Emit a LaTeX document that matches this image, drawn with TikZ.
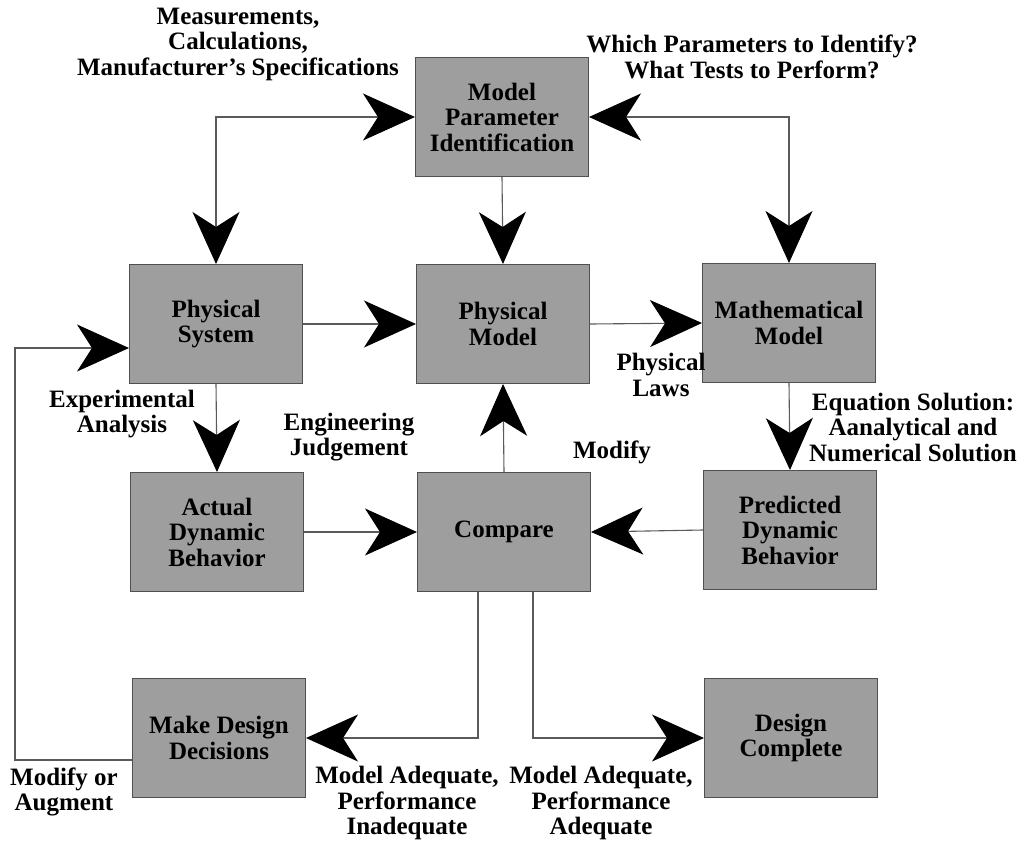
\documentclass[tikz,border=0pt]{standalone}
\usepackage{fontspec}
\setmainfont{Liberation Serif}
\usetikzlibrary{arrows.meta}
\definecolor{boxfill}{RGB}{158,158,158}
\definecolor{boxline}{RGB}{80,80,80}
\definecolor{wire}{RGB}{90,90,90}
\begin{document}
\begin{tikzpicture}[x=1pt,y=-1pt,
  txt/.style={font=\bfseries\fontsize{25}{25.5}\selectfont, align=center, inner sep=0pt},
  blk/.style={txt, draw=boxline, line width=1pt, fill=boxfill,
    minimum width=173pt, minimum height=119pt},
  bigtip/.tip={Stealth[length=52pt, width=47pt, inset=15pt, color=black]},
  wire/.style={draw=wire, line width=1.1pt},
  flow/.style={wire, -bigtip},
  both/.style={wire, bigtip-bigtip}]
\useasboundingbox (0,0) rectangle (1028,844);

% blocks
\node[blk] (mpi)  at (502,117) {Model\\Parameter\\Identification};
\node[blk] (psys) at (216,324) {Physical\\System};
\node[blk] (pmod) at (503,324) {Physical\\Model};
\node[blk] (mmod) at (789,323) {Mathematical\\Model};
\node[blk] (adb)  at (217,532) {Actual\\Dynamic\\Behavior};
\node[blk] (cmp)  at (504,532) {Compare};
\node[blk] (pdb)  at (790,530) {Predicted\\Dynamic\\Behavior};
\node[blk] (mdd)  at (219,738) {Make Design\\Decisions};
\node[blk] (dc)   at (791,738) {Design\\Complete};

% labels
\node[txt] (lmeas) at (238,44) {Measurements,\\Calculations,\\Manufacturer's Specifications};
\node[txt] (lwhich) at (752,57) {Which Parameters to Identify?\\What Tests to Perform?};
\node[txt] (llaws) at (661,375) {Physical\\Laws};
\node[txt] (leq) at (913,427) {Equation Solution:\\Aanalytical and\\Numerical Solution};
\node[txt] (lexp) at (122,414) {Experimental\\Analysis};
\node[txt] (leng) at (349,437) {Engineering\\Judgement};
\node[txt] (lmod) at (612,452) {Modify};
\node[txt] (laug) at (64,792) {Modify or\\Augment};
\node[txt] (lina) at (407,803) {Model Adequate,\\Performance\\Inadequate};
\node[txt] (lade) at (601,803) {Model Adequate,\\Performance\\Adequate};

% connectors
\draw[both] (psys.north) |- (mpi.west);
\draw[both] (mmod.north) |- (mpi.east);
\draw[flow] (mpi.south) -- (pmod.north);
\draw[flow] (psys.east) -- (pmod.west);
\draw[flow] (pmod.east) -- (mmod.west);
\draw[flow] (psys.south) -- (adb.north);
\draw[flow] (mmod.south) -- (pdb.north);
\draw[flow] (adb.east) -- (cmp.west);
\draw[flow] (pdb.west) -- (cmp.east);
\draw[flow] (cmp.north) -- (pmod.south);
\draw[flow] ([xshift=-26pt]cmp.south) |- (mdd.east);
\draw[flow] ([xshift=29pt]cmp.south) |- (dc.west);
% feedback loop from the design decisions back to the physical system
\coordinate (lft) at (15,600);
\draw[flow] ([yshift=-22pt]mdd.west) -| (lft) |- ([yshift=-24pt]psys.west);
\end{tikzpicture}
\end{document}
